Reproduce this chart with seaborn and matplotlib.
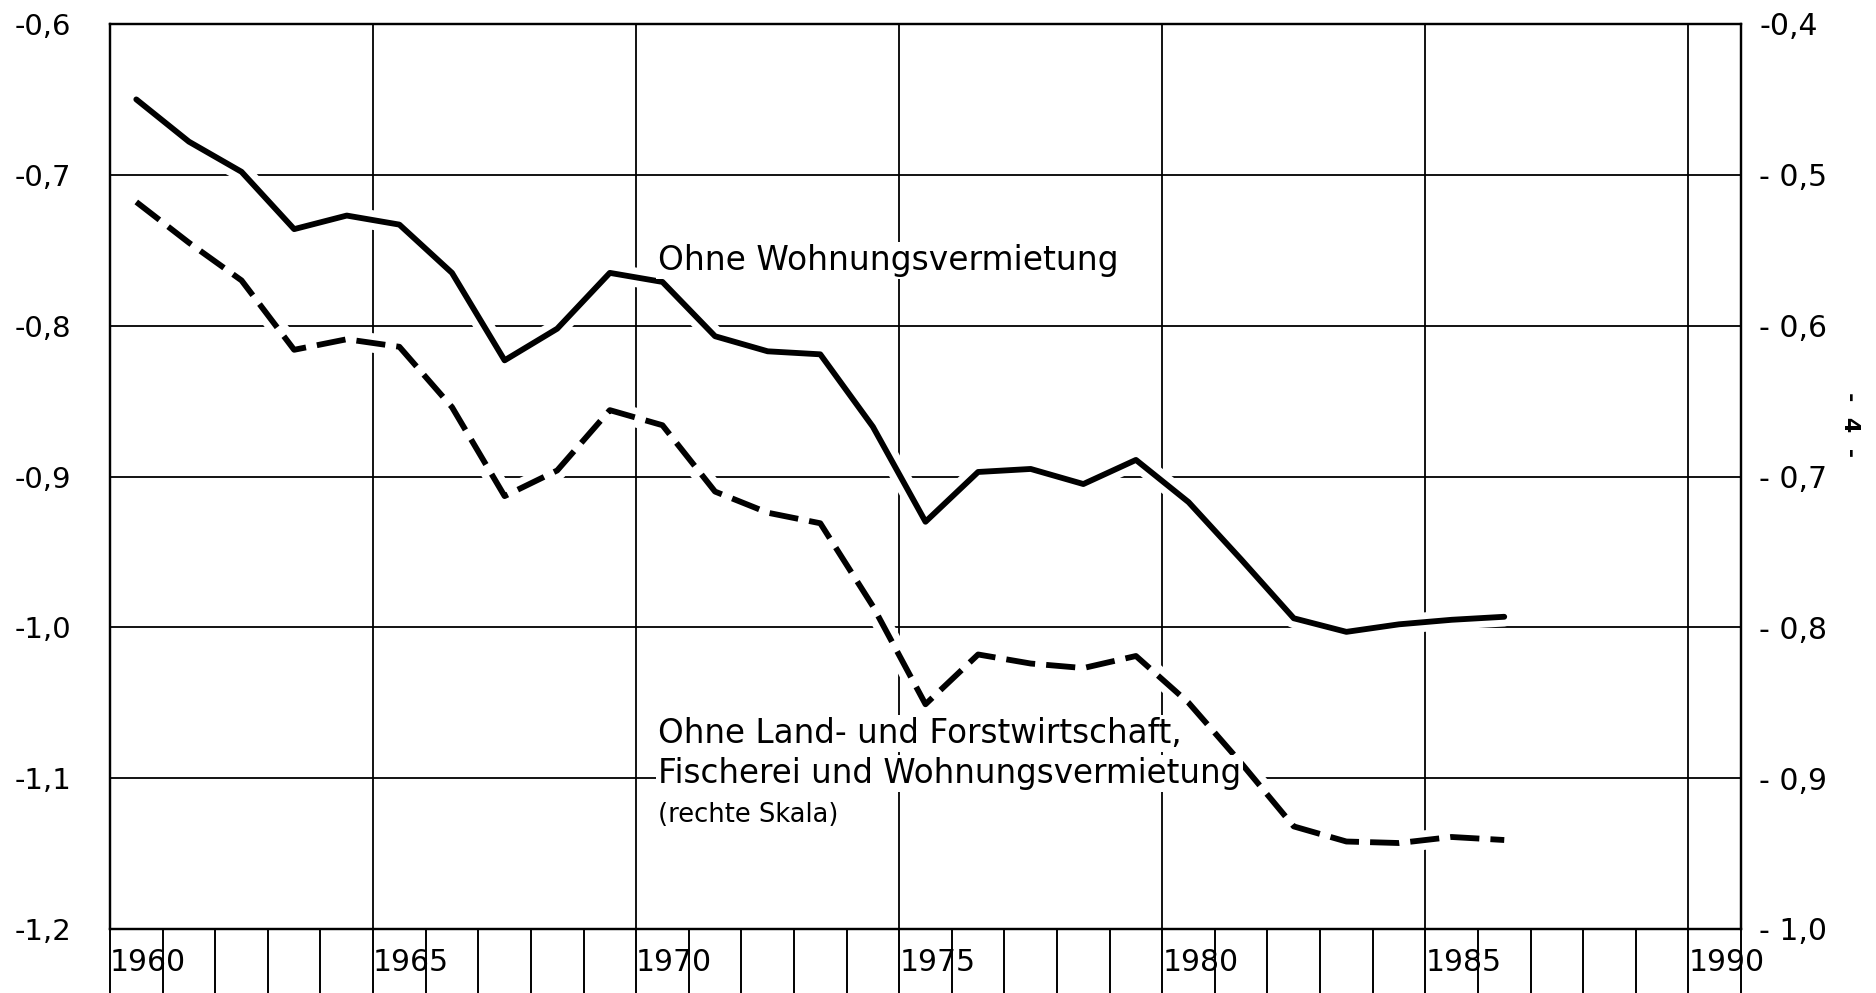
import matplotlib
matplotlib.use("Agg")
import matplotlib.pyplot as plt
import seaborn as sns
import pandas as pd

# ---------------- data ----------------
years = list(range(1960, 1987))
# left scale
ohne_wohnungsvermietung = [-0.650, -0.678, -0.698, -0.736, -0.727, -0.733, -0.765, -0.823, -0.802,
                           -0.765, -0.771, -0.807, -0.817, -0.819, -0.867, -0.930, -0.897, -0.895,
                           -0.905, -0.889, -0.917, -0.955, -0.994, -1.003, -0.998, -0.995, -0.993]
# right scale
ohne_lfw_wohnung = [-0.518, -0.545, -0.570, -0.616, -0.609, -0.614, -0.654, -0.713, -0.696,
                    -0.656, -0.666, -0.710, -0.724, -0.731, -0.786, -0.851, -0.818, -0.824,
                    -0.827, -0.819, -0.850, -0.890, -0.932, -0.942, -0.943, -0.939, -0.941]

x_major = [1960, 1965, 1970, 1975, 1980, 1985, 1990]
x_labels = ["1960", "1965", "1970", "1975", "1980", "1985", "1990"]
x_minor = list(range(1960, 1992))

left_ticks = [-0.6, -0.7, -0.8, -0.9, -1.0, -1.1, -1.2]
left_labels = ["-0,6", "-0,7", "-0,8", "-0,9", "-1,0", "-1,1", "-1,2"]
right_ticks = [-0.4, -0.5, -0.6, -0.7, -0.8, -0.9, -1.0]
right_labels = ["-0,4", "- 0,5", "- 0,6", "- 0,7", "- 0,8", "- 0,9", "- 1,0"]

label_solid = "Ohne Wohnungsvermietung"
label_dashed_1 = "Ohne Land- und Forstwirtschaft,"
label_dashed_2 = "Fischerei und Wohnungsvermietung"
label_dashed_3 = "(rechte Skala)"
page_number = "-  4  -"

# ---------------- figure ----------------
sns.set_theme(style="white")
plt.rcParams['font.family'] = ['DejaVu Sans']

df = pd.DataFrame({"Jahr": years,
                   "solid": ohne_wohnungsvermietung,
                   "dashed": ohne_lfw_wohnung})
df["x"] = df["Jahr"] + 0.5  # values plotted in the middle of each year

fig = plt.figure(figsize=(18.76, 9.93), dpi=100)
fig.patch.set_facecolor("white")
ax = fig.add_axes([110 / 1876, 64 / 993, 1631 / 1876, 905 / 993])
ax2 = ax.twinx()

# white halos (break the grid around the curves) + curves
sns.lineplot(data=df, x="x", y="solid", ax=ax, color="white", linewidth=14, zorder=3)
sns.lineplot(data=df, x="x", y="solid", ax=ax, color="black", linewidth=4.2, zorder=4)
sns.lineplot(data=df, x="x", y="dashed", ax=ax2, color="white", linewidth=14, zorder=3)
sns.lineplot(data=df, x="x", y="dashed", ax=ax2, color="black", linewidth=4.2, zorder=4,
             linestyle=(0, (5.0, 1.9)))

ax.set_xlim(1960, 1991)
ax.set_ylim(-1.2, -0.6)
ax2.set_ylim(-1.0, -0.4)

ax.set_xlabel("")
ax.set_ylabel("")
ax2.set_ylabel("")

# grid
ax.set_axisbelow(True)
ax.set_xticks(x_major, labels=x_labels)
ax.set_xticks(x_minor, minor=True)
ax.set_yticks(left_ticks, labels=left_labels)
ax.grid(True, which="major", axis="both", color="black", linewidth=1.3)
ax2.grid(False)
ax2.set_yticks(right_ticks, labels=right_labels)

ax.tick_params(axis="x", which="both", direction="out", length=50, width=1.4,
               color="black", bottom=True, pad=-36, labelsize=21.5, labelcolor="black")
for t in ax.get_xticklabels():
    t.set_horizontalalignment("left")
ax.tick_params(axis="y", length=0, pad=28, labelsize=21, labelcolor="black")
ax2.tick_params(axis="y", length=0, pad=13, labelsize=21.5, labelcolor="black")

for a in (ax, ax2):
    for s in a.spines.values():
        s.set_color("black")
        s.set_linewidth(1.6)
        s.set_visible(True)

# annotations
box = dict(facecolor="white", edgecolor="none", pad=1.5)
ax2.text(1970.42, -0.763, label_solid, transform=ax.transData, fontsize=23.7,
         ha="left", va="baseline", color="black", zorder=6, bbox=box)
ax2.text(1970.42, -1.0765, label_dashed_1, transform=ax.transData, fontsize=23.5,
         ha="left", va="baseline", color="black", zorder=6, bbox=box)
ax2.text(1970.42, -1.103, label_dashed_2, transform=ax.transData, fontsize=23.5,
         ha="left", va="baseline", color="black", zorder=6, bbox=box)
ax2.text(1970.42, -1.129, label_dashed_3, transform=ax.transData, fontsize=18.5,
         ha="left", va="baseline", color="black", zorder=6, bbox=box)

fig.text(1850 / 1876, 1 - 425 / 993, page_number, rotation=270, fontsize=16,
         fontweight="bold", ha="center", va="center", color="black")

fig.savefig("out.png", dpi=100, facecolor="white")
